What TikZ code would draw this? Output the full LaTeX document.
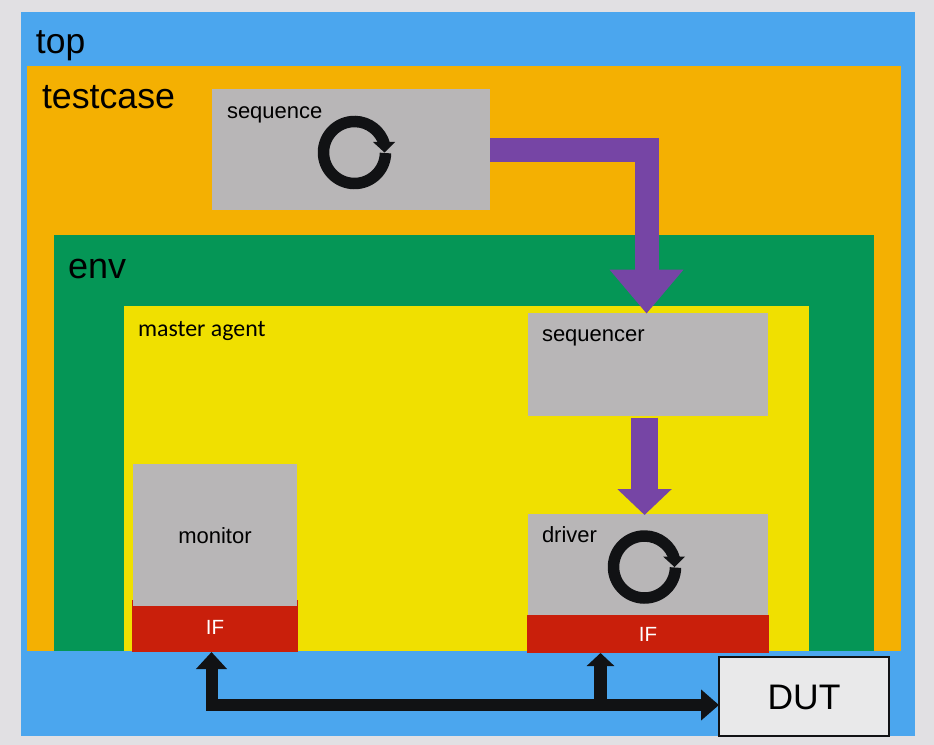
\documentclass[tikz,border=0pt]{standalone}
\usepackage{fontspec}
\setmainfont{Liberation Sans}
\newfontfamily\calfont{Carlito}
\usetikzlibrary{arrows.meta}
\definecolor{pagebg}{HTML}{E1E0E3}
\definecolor{topblue}{HTML}{4BA6EE}
\definecolor{caseorange}{HTML}{F4B002}
\definecolor{envgreen}{HTML}{059656}
\definecolor{agentyellow}{HTML}{F0E000}
\definecolor{compgray}{HTML}{B8B6B7}
\definecolor{ifred}{HTML}{C91F0B}
\definecolor{flowpurple}{HTML}{7645A5}
\definecolor{busblack}{HTML}{111214}
\definecolor{dutfill}{HTML}{E9E9EA}
\tikzset{
  x=0.75pt,y=-0.75pt,
  panel/.style n args={3}{rectangle,draw=none,fill=#3,inner sep=0pt,outer sep=0pt,
    minimum width=#1*0.75pt,minimum height=#2*0.75pt},
  txt/.style={inner sep=0pt,outer sep=0pt,anchor=base west,font=\fontsize{#1pt}{#1pt}\selectfont},
  ctxt/.style={inner sep=0pt,outer sep=0pt,anchor=base,font=\fontsize{#1pt}{#1pt}\selectfont},
  flow/.style={draw=flowpurple,line width=#1*0.75pt,line join=miter},
  bus/.style={draw=busblack,line width=#1*0.75pt,line join=miter},
  loopmark/.pic={
    \draw[busblack,line width=11.5*0.75pt] (1:31) arc[start angle=1,end angle=345,radius=31];
    \fill[busblack] (18.5,-10.5) -- (40.5,-10.5) -- (30,0) -- cycle;
  }
}
\begin{document}
\begin{tikzpicture}
\useasboundingbox (0,0) rectangle (934,745);
\fill[pagebg] (0,0) rectangle (934,745);
% nested containers
\node[panel={894}{724}{topblue}] (top) at (468,374) {};
\node[panel={874}{585}{caseorange}] (case) at (464,358.5) {};
\node[panel={820}{416}{envgreen}] (env) at (464,443) {};
\node[panel={685}{345}{agentyellow}] (agent) at (466.5,478.5) {};
% components
\node[panel={278}{121}{compgray}] (sequence) at (351,149.5) {};
\node[panel={240}{103}{compgray}] (sequencer) at (648,364.5) {};
\node[panel={240}{101}{compgray}] (driver) at (648,564.5) {};
\node[panel={166}{52}{ifred}] (ifmon) at (215,626) {};
\node[panel={164}{142}{compgray}] (monitor) at (215,535) {};
\node[panel={242}{38}{ifred}] (ifdrv) at (648,634) {};
\node[panel={170}{79}{dutfill},draw=busblack,line width=1.5pt] (dut) at (804,696.5) {};
% labels
\node[txt=26.6] (ltop) at (36,54) {top};
\node[txt=26.8] (lcase) at (42,108.5) {testcase};
\node[txt=27] (lenv) at (68,278) {env};
\node[txt=17.85,font=\calfont\fontsize{17.9pt}{17.9pt}\selectfont] (lagent) at (138,336) {master agent};
\node[txt=16.5] (lseq) at (227,119) {sequence};
\node[txt=16.5] (lsqr) at (542,341) {sequencer};
\node[txt=16.5] (ldrv) at (542,542) {driver};
\node[ctxt=16.5] (lmon) at (215,543) {monitor};
\node[ctxt=15.4,text=white] (lifm) at (215,634) {IF};
\node[ctxt=15.4,text=white] (lifd) at (648,641) {IF};
\node[ctxt=26.6] (ldut) at (804,709.5) {DUT};
% loop marks
\pic at (354.5,152.5) {loopmark};
\pic at (644.5,567) {loopmark};
% purple flow arrows
\coordinate (seqout) at ([yshift=-0.75pt]sequence.east);
\coordinate (sqrin) at ([xshift=-1.1pt,yshift=-0.5pt]sequencer.north);
\draw[flow=24,-{Triangle[width=71*0.75pt,length=44*0.75pt]}] (seqout) -| (sqrin);
\draw[flow=27,-{Triangle[width=53*0.75pt,length=26*0.75pt]}]
  ([xshift=-2.6pt,yshift=-1.2pt]sequencer.south) -- ([xshift=-2.6pt,yshift=-0.75pt]driver.north);
% black bus
\coordinate (monport) at ([xshift=-2.625pt]ifmon.south);
\coordinate (drvport) at ([xshift=-35.625pt]ifdrv.south);
\coordinate (busend) at ([yshift=-6.375pt]dut.west);
\draw[bus=12,{Triangle[width=30*0.75pt,length=17*0.75pt]}-{Triangle[width=30*0.75pt,length=18*0.75pt]}] (monport) |- (busend);
\draw[bus=13,-{Triangle[width=27*0.75pt,length=13*0.75pt]}] (drvport |- busend) -- (drvport);
\end{tikzpicture}
\end{document}
